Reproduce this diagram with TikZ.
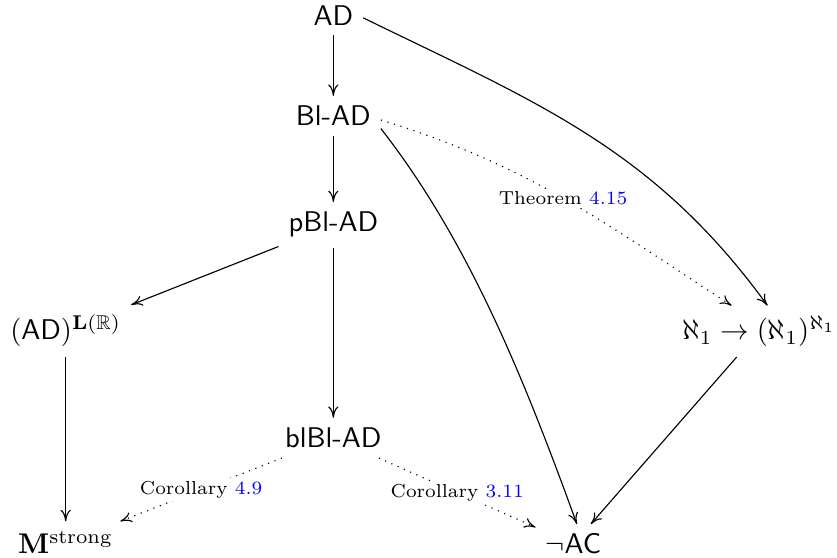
\documentclass[tikz,border=0pt]{standalone}
\usepackage{amssymb}
\usetikzlibrary{arrows.meta}

\newcommand{\refnum}[1]{\textcolor{blue}{#1}}

\begin{document}
\begin{tikzpicture}[thin, >={Computer Modern Rightarrow[length=4pt, width=3.6pt]}, stmt/.style = {anchor=base}, imp/.style = {->}, via/.style = {->, dotted}, ref/.style = {fill=white, font=\fontsize{6.6}{8}\selectfont, inner sep=1pt}]
    \useasboundingbox (0,0) rectangle (10.32,-6.88);
    \node[stmt] (ad) at (4.11,-0.31) {\textsf{AD}};
    \node[stmt] (blad) at (4.11,-1.55) {\textsf{Bl-AD}};
    \node[stmt] (pblad) at (4.11,-2.86) {\textsf{pBl-AD}};
    \node[stmt] (adlr) at (0.81,-4.19) {$(\mathsf{AD})^{\mathbf{L}(\mathbb{R})}$};
    \node[stmt] (aleph) at (9.36,-4.19) {$\aleph_1 \to (\aleph_1)^{\aleph_1}$};
    \node[stmt] (blblad) at (4.11,-5.52) {\textsf{blBl-AD}};
    \node[stmt] (mstrong) at (0.81,-6.83) {$\mathbf{M}^{\mathrm{strong}}$};
    \node[stmt] (notac) at (7.07,-6.83) {$\neg\mathsf{AC}$};
    \draw[imp] (ad) -- (blad);
    \draw[imp] (blad) -- (pblad);
    \draw[imp] (pblad) -- (adlr);
    \draw[imp] (pblad) -- (blblad);
    \draw[imp] (adlr) -- (mstrong);
    \draw[imp] (ad.-5) to[out=-26, in=126] (aleph.72);
    \draw[imp] (blad.-15) to[out=-52, in=110, looseness=0.85] (notac.80);
    \draw[imp] (aleph) -- (notac);
    \draw[via] (blad.-5) to[out=-17, in=147] node[ref] {Theorem \refnum{4.15}} (aleph.137);
    \draw[via] (blblad) -- node[ref] {Corollary \refnum{4.9}} (mstrong);
    \draw[via] (blblad) -- node[ref] {Corollary \refnum{3.11}} (notac);
\end{tikzpicture}
\end{document}
